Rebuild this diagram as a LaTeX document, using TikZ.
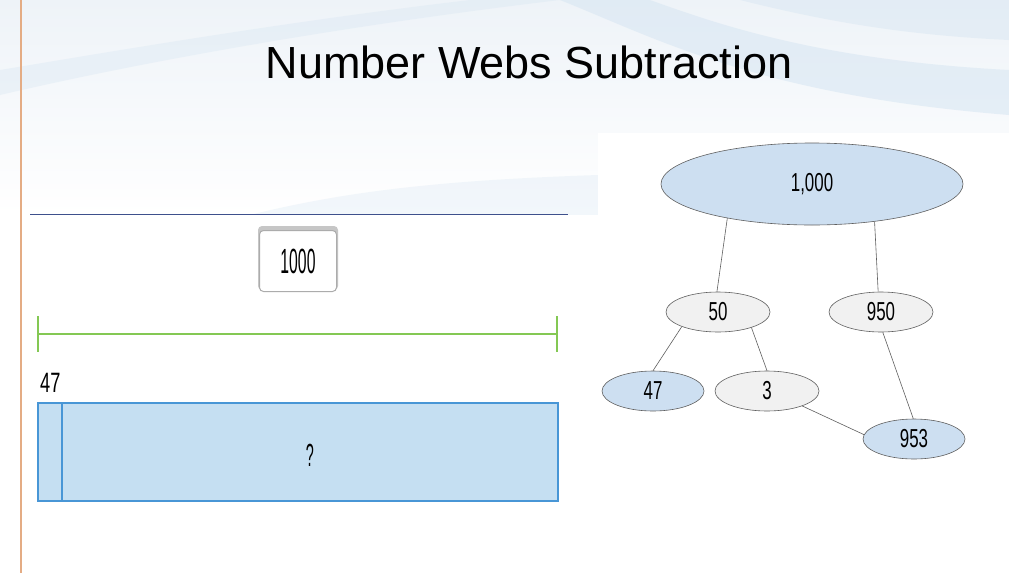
\documentclass[tikz,border=0pt]{standalone}
\usepackage{fontspec}
\setmainfont{Liberation Sans}
\newfontfamily\narrowfont[FakeStretch=0.65]{Liberation Sans}
\newfontfamily\slimfont[FakeStretch=0.45]{Liberation Sans}
\usetikzlibrary{shapes.geometric}
\definecolor{bluefill}{RGB}{205,223,241}
\definecolor{grayfill}{RGB}{241,241,241}
\definecolor{webline}{RGB}{95,95,95}
\definecolor{barfill}{RGB}{197,223,242}
\definecolor{barline}{RGB}{72,150,214}
\definecolor{greenline}{RGB}{132,200,84}
\definecolor{navyline}{RGB}{62,80,140}
\definecolor{orangeline}{RGB}{228,172,132}
\definecolor{swoosh}{RGB}{214,229,242}
\definecolor{skytop}{RGB}{238,243,248}
\tikzset{
  web/.style={ellipse, draw=webline, line width=0.6pt, inner sep=0pt,
    minimum width=104pt, minimum height=40pt,
    font=\narrowfont\fontsize{26}{28}\selectfont},
  webblue/.style={web, fill=bluefill},
  webgray/.style={web, fill=grayfill},
  link/.style={draw=webline, line width=0.6pt},
}
\begin{document}
\begin{tikzpicture}[x=1pt,y=-1pt]
\useasboundingbox (0,0) rectangle (1009,573);
% background
\fill[white] (0,0) rectangle (1009,573);
\shade[top color=skytop, bottom color=white] (0,0) rectangle (1009,215);
\fill[swoosh, opacity=0.55] (560,0) .. controls (660,40) and (760,95) .. (1009,115) -- (1009,70) .. controls (820,60) and (720,25) .. (650,0) -- cycle;
\fill[swoosh, opacity=0.45] (740,0) .. controls (820,20) and (900,35) .. (1009,40) -- (1009,0) -- cycle;
\fill[swoosh, opacity=0.35] (0,95) .. controls (150,60) and (350,25) .. (560,0) -- (470,0) .. controls (300,20) and (150,45) .. (0,70) -- cycle;
\fill[swoosh, opacity=0.3] (250,215) .. controls (350,190) and (450,180) .. (598,175) -- (598,215) -- cycle;
\fill[white] (598,133) rectangle (1009,573);
\fill[white] (30,215) rectangle (598,573);
% left orange rule
\draw[orangeline, line width=1.5pt] (21,0) -- (21,573);
% title
\node[font=\fontsize{45}{50}\selectfont, text=black] (title) at (529,62) {Number Webs Subtraction};
% navy rule
\draw[navyline, line width=1pt] (30,214) -- (568,214);
% 1000 box
\fill[gray!45, rounded corners=4pt] (258,226) rectangle (338,290);
\node[draw=gray!65, fill=white, rounded corners=4pt, line width=1pt, minimum width=77pt, minimum height=61pt, inner sep=0pt,
  font=\slimfont\fontsize{35}{38}\selectfont] (total) at (298,261) {1000};
% green measure line
\draw[greenline, line width=2pt] (38,334) -- (557,334);
\draw[greenline, line width=1.5pt] (38,316) -- (38,352);
\draw[greenline, line width=1.5pt] (557,316) -- (557,352);
% bar
\node[font=\narrowfont\fontsize{28}{30}\selectfont, anchor=south west, inner sep=0pt] (lab47) at (40,393) {47};
\draw[barline, fill=barfill, line width=2pt] (38,403) rectangle (558,501);
\draw[barline, line width=1.5pt] (62,403) -- (62,501);
\node[font=\slimfont\fontsize{32}{34}\selectfont] (q) at (310,455) {?};
% number web
\node[webblue, minimum width=302pt, minimum height=82pt] (n1000) at (812,184) {1,000};
\node[webgray] (n50) at (718,312) {50};
\node[webgray] (n950) at (881,312) {950};
\node[webblue, minimum width=102pt] (n47) at (653,391) {47};
\node[webgray] (n3) at (767,391) {3};
\node[webblue, minimum width=102pt] (n953) at (914,439) {953};
\draw[link] (n1000.202) -- (n50.93);
\draw[link] (n1000.329) -- (n950.98);
\draw[link] (n50.202) -- (n47.90);
\draw[link] (n50.335) -- (n3.90);
\draw[link] (n950.275) -- (n953.92);
\draw[link] (n3.337) -- (n953.175);
\end{tikzpicture}
\end{document}
